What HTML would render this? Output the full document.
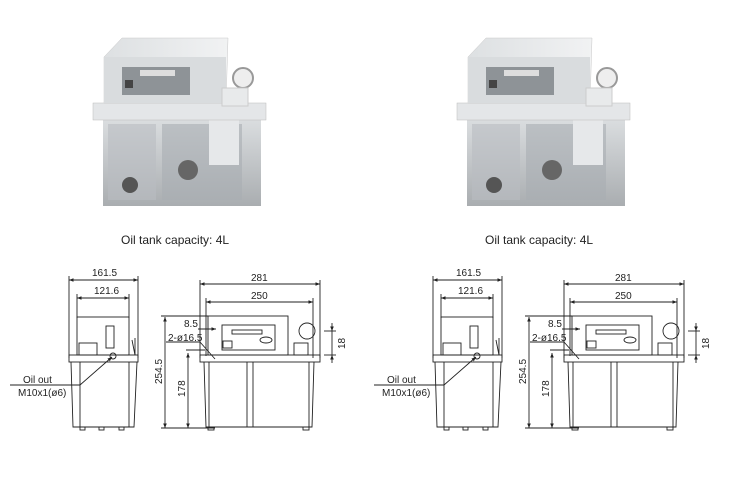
<!DOCTYPE html>
<html><head><style>
body{margin:0;background:#fff;}
svg{display:block;font-family:"Liberation Sans",Arial,sans-serif;}
</style></head><body>
<svg width="738" height="486" viewBox="0 0 738 486" xmlns="http://www.w3.org/2000/svg">
<defs>
<marker id="a" viewBox="0 0 10 10" refX="10" refY="5" markerWidth="5" markerHeight="5" orient="auto-start-reverse"><path d="M0,1 L10,5 L0,9 z" fill="#222"/></marker>
<linearGradient id="tank" x1="0" x2="0" y1="0" y2="1"><stop offset="0" stop-color="#cfd3d6"/><stop offset="1" stop-color="#8d9296"/></linearGradient>
<linearGradient id="cov" x1="0" x2="1" y1="0" y2="0"><stop offset="0" stop-color="#dde0e2"/><stop offset="1" stop-color="#f1f2f3"/></linearGradient>
<g id="unit">
 <!-- photo -->
 <rect x="103" y="118" width="158" height="88" fill="url(#tank)" opacity="0.75"/>
 <rect x="108" y="124" width="48" height="76" fill="#b9bdc1" opacity="0.6"/>
 <rect x="162" y="124" width="80" height="76" fill="#a9aeb2" opacity="0.6"/>
 <circle cx="130" cy="185" r="8" fill="#555"/>
 <circle cx="188" cy="170" r="10" fill="#666"/>
 <rect x="209" y="110" width="30" height="55" fill="#e6e8ea"/>
 <rect x="93" y="103" width="173" height="17" fill="#e4e6e8" stroke="#bbb" stroke-width="0.5"/>
 <polygon points="104,57 122,38 228,38 226,103 104,103" fill="url(#cov)" stroke="#c8c8c8" stroke-width="0.5"/>
 <rect x="104" y="57" width="122" height="46" fill="#d9dcde"/>
 <rect x="122" y="67" width="68" height="28" fill="#8e9397"/>
 <rect x="125" y="80" width="8" height="8" fill="#444"/>
 <rect x="140" y="70" width="35" height="6" fill="#ddd"/>
 <circle cx="243" cy="78" r="10" fill="#eee" stroke="#999" stroke-width="2"/>
 <rect x="222" y="88" width="26" height="18" fill="#e8eaeb" stroke="#ccc"/>
 <!-- caption -->
 <text x="121" y="244" font-size="12" fill="#222">Oil tank capacity: 4L</text>

 <g stroke="#222" fill="none" stroke-width="0.9">
  <!-- side view -->
  <line x1="69" y1="276" x2="69" y2="358"/><line x1="138" y1="276" x2="138" y2="358"/>
  <line x1="69" y1="280" x2="138" y2="280" marker-start="url(#a)" marker-end="url(#a)"/>
  <line x1="77" y1="294" x2="77" y2="318"/><line x1="129" y1="294" x2="129" y2="318"/>
  <line x1="77" y1="298" x2="129" y2="298" marker-start="url(#a)" marker-end="url(#a)"/>
  <rect x="77" y="317" width="52" height="38"/>
  <rect x="106" y="326" width="8" height="22"/>
  <rect x="79" y="343" width="18" height="12"/>
  <line x1="132" y1="340" x2="135" y2="355"/><line x1="135" y1="338" x2="135" y2="355"/>
  <rect x="69" y="355" width="69" height="7"/>
  <path d="M71,362 L73,427 L134,427 L137,362"/>
  <line x1="80" y1="362" x2="80" y2="427"/><line x1="129" y1="362" x2="129" y2="427"/>
  <rect x="80" y="427" width="5" height="3"/><rect x="99" y="427" width="5" height="3"/><rect x="119" y="427" width="5" height="3"/>
  <circle cx="113" cy="356" r="3"/>
  <path d="M10,385 L80,385 L112,357" marker-end="url(#a)"/>
  <!-- front view -->
  <line x1="200" y1="280" x2="200" y2="358"/><line x1="320" y1="280" x2="320" y2="358"/>
  <line x1="200" y1="284" x2="320" y2="284" marker-start="url(#a)" marker-end="url(#a)"/>
  <line x1="206" y1="298" x2="206" y2="356"/><line x1="313" y1="298" x2="313" y2="358"/>
  <line x1="206" y1="302" x2="313" y2="302" marker-start="url(#a)" marker-end="url(#a)"/>
  <rect x="208" y="316" width="80" height="39"/>
  <rect x="222" y="325" width="53" height="25"/>
  <rect x="232" y="330" width="30" height="4"/>
  <rect x="223" y="341" width="9" height="7"/>
  <ellipse cx="266" cy="340" rx="6" ry="3"/>
  <circle cx="307" cy="331" r="8"/>
  <rect x="294" y="343" width="14" height="12"/>
  <rect x="200" y="355" width="120" height="7"/>
  <path d="M204,362 L206,427 L312,427 L314,362"/>
  <line x1="247" y1="362" x2="247" y2="427"/><line x1="253" y1="362" x2="253" y2="427"/>
  <line x1="209" y1="362" x2="209" y2="427"/><line x1="309" y1="362" x2="309" y2="427"/>
  <rect x="208" y="427" width="6" height="3"/><rect x="303" y="427" width="6" height="3"/>
  <line x1="165" y1="317" x2="165" y2="428" marker-start="url(#a)" marker-end="url(#a)"/>
  <line x1="161" y1="316" x2="208" y2="316"/>
  <line x1="188" y1="353" x2="188" y2="428" marker-start="url(#a)" marker-end="url(#a)"/>
  <line x1="186" y1="350" x2="205" y2="350"/>
  <line x1="161" y1="428" x2="215" y2="428"/>
  <line x1="198" y1="329" x2="216" y2="329" marker-end="url(#a)"/>
  <line x1="166" y1="342" x2="200" y2="342"/><line x1="200" y1="342" x2="215" y2="359"/>
  <line x1="324" y1="331" x2="336" y2="331"/><line x1="324" y1="355" x2="336" y2="355"/>
  <line x1="332" y1="323" x2="332" y2="331" marker-end="url(#a)"/><line x1="332" y1="363" x2="332" y2="355" marker-end="url(#a)"/>
  <line x1="332" y1="331" x2="332" y2="355"/>
 </g>
 <g font-size="10" fill="#222">
  <text x="92" y="276">161.5</text>
  <text x="94" y="294">121.6</text>
  <text x="23" y="383">Oil out</text>
  <text x="18" y="396">M10x1(ø6)</text>
  <text x="251" y="281">281</text>
  <text x="251" y="299">250</text>
  <text x="184" y="327">8.5</text>
  <text x="168" y="341">2-ø16.5</text>
  <text transform="translate(162,384) rotate(-90)">254.5</text>
  <text transform="translate(185,397) rotate(-90)">178</text>
  <text transform="translate(345,349) rotate(-90)">18</text>
 </g>
</g>
</defs>
<use href="#unit"/>
<use href="#unit" transform="translate(364,0)"/>
</svg>
</body></html>
